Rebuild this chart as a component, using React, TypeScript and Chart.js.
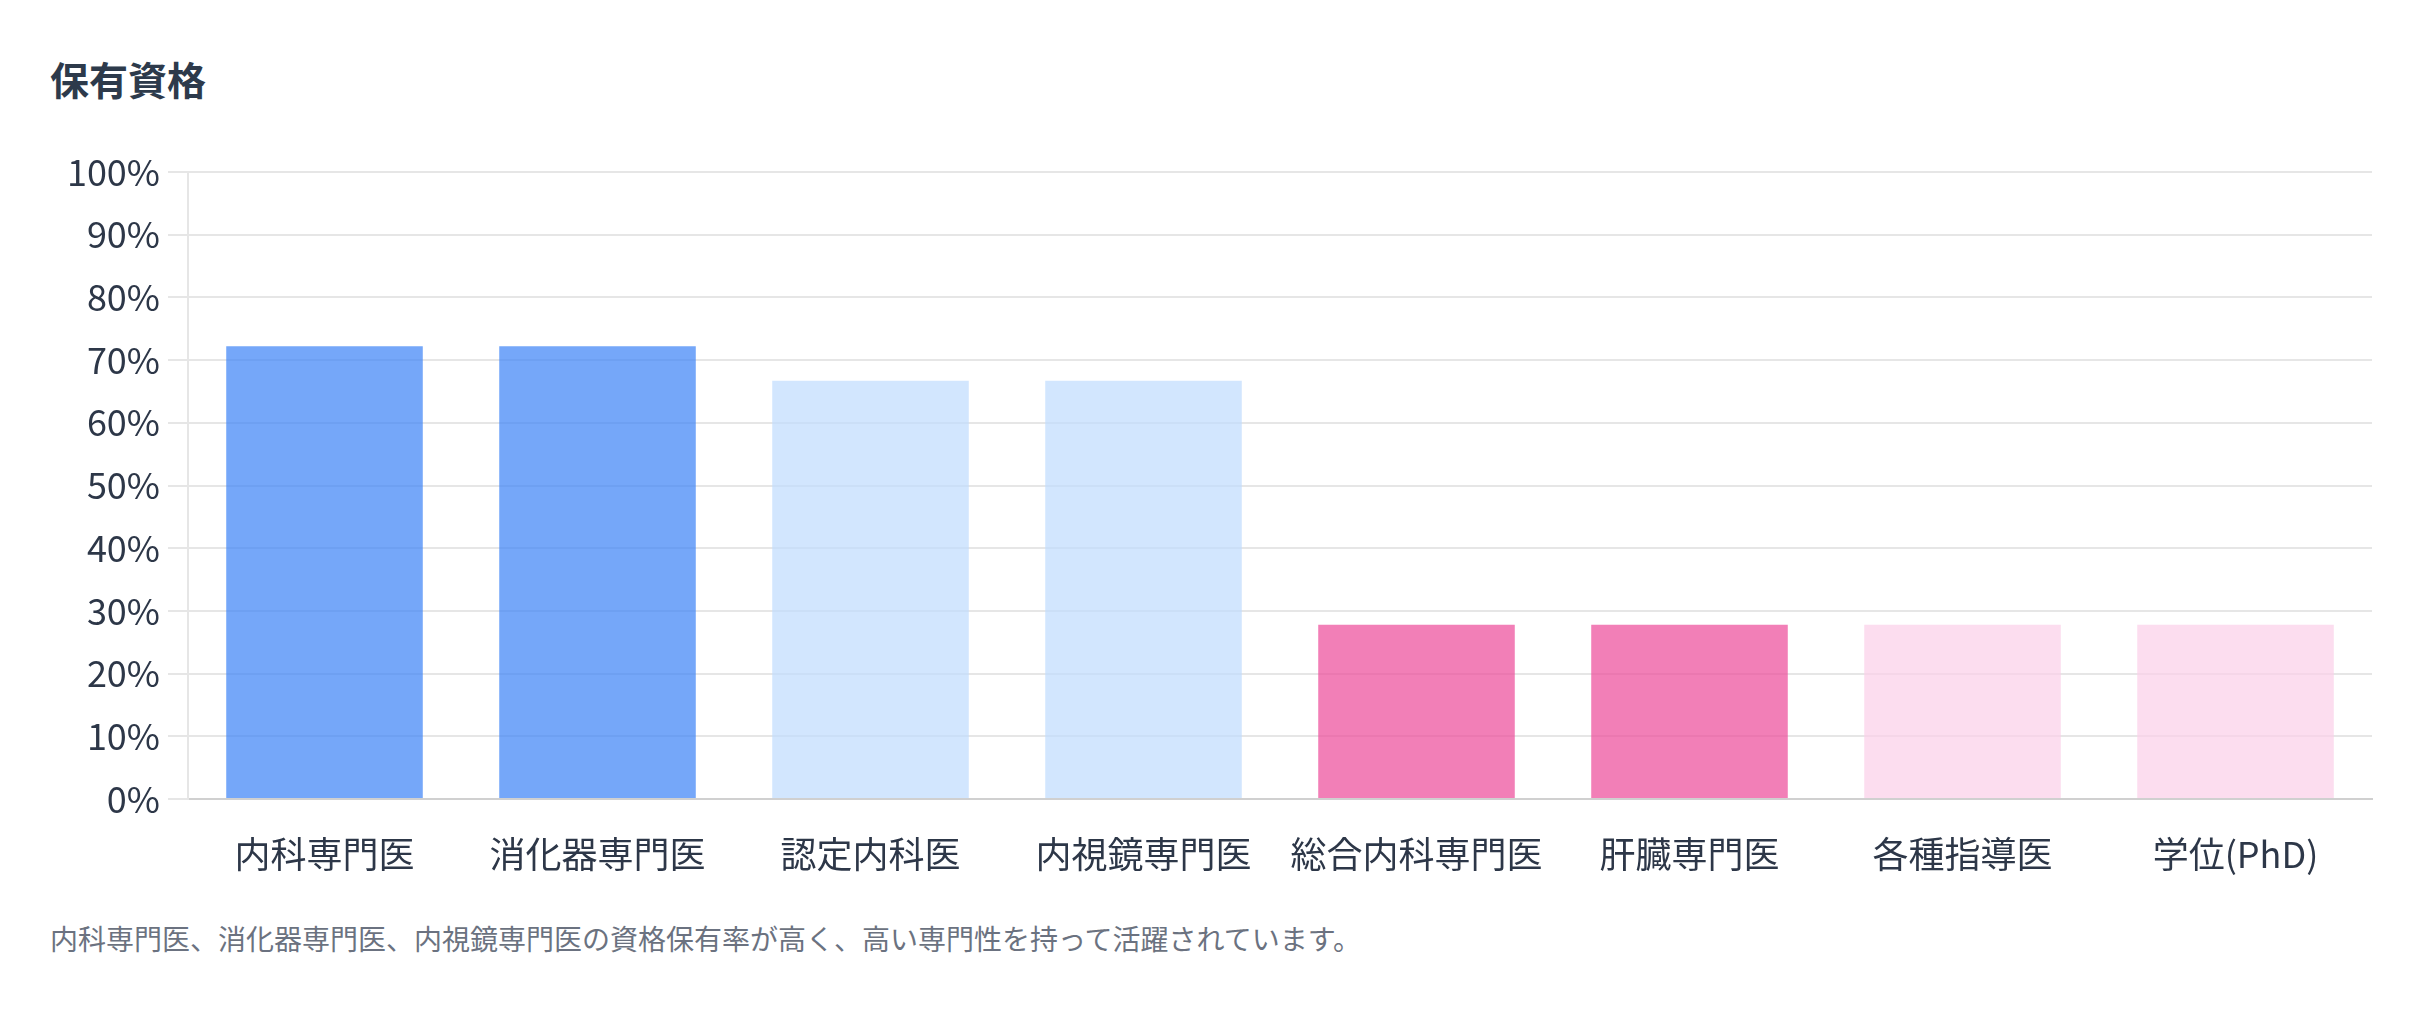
import { Chart, registerables } from "chart.js";
import { useEffect, useRef } from "react";

Chart.register(...registerables);

const categories = ["内科専門医", "消化器専門医", "認定内科医", "内視鏡専門医", "総合内科専門医", "肝臓専門医", "各種指導医", "学位(PhD)"];
const holdRates = [72.2, 72.2, 66.7, 66.7, 27.8, 27.8, 27.8, 27.8];
const barColors = [
  "rgba(59, 130, 246, 0.7)",
  "rgba(59, 130, 246, 0.7)",
  "rgba(191, 219, 254, 0.7)",
  "rgba(191, 219, 254, 0.7)",
  "rgba(236, 72, 153, 0.7)",
  "rgba(236, 72, 153, 0.7)",
  "rgba(251, 207, 232, 0.7)",
  "rgba(251, 207, 232, 0.7)",
];

const FONT = '"Noto Sans CJK JP", "Noto Sans", sans-serif';

const QualificationChart = () => {
  const chartRef = useRef<HTMLCanvasElement>(null);
  const chartInstance = useRef<Chart | null>(null);

  useEffect(() => {
    if (!chartRef.current) return;
    const ctx = chartRef.current.getContext("2d");
    if (!ctx) return;

    chartInstance.current = new Chart(ctx, {
      type: "bar",
      data: {
        labels: categories,
        datasets: [
          {
            label: "保有率",
            data: holdRates,
            backgroundColor: barColors,
            borderWidth: 0,
          },
        ],
      },
      options: {
        animation: false,
        responsive: true,
        maintainAspectRatio: false,
        layout: { padding: { top: 30, right: 8, bottom: 0, left: 0 } },
        plugins: {
          legend: { display: false },
          tooltip: { enabled: false },
        },
        scales: {
          x: {
            grid: { display: false },
            border: { color: "#d0d0d0", width: 2 },
            ticks: {
              color: "#2d3748",
              font: { family: FONT, size: 36 },
              padding: 26,
            },
            afterFit: (scale: any) => {
              scale.height = 100;
            },
          },
          y: {
            min: 0,
            max: 100,
            ticks: {
              stepSize: 10,
              color: "#2d3748",
              font: { family: FONT, size: 36 },
              padding: 8,
              callback: (v: any) => v + "%",
            },
            grid: { color: "#e6e6e6", lineWidth: 2, tickLength: 20 },
            border: { color: "#e6e6e6", width: 2 },
            afterFit: (scale: any) => {
              scale.width = 188;
            },
          },
        },
      } as any,
    });

    return () => {
      if (chartInstance.current) {
        chartInstance.current.destroy();
        chartInstance.current = null;
      }
    };
  }, []);

  return <canvas ref={chartRef} />;
};

export default function App() {
  return (
    <div
      style={{
        position: "fixed",
        left: 0,
        top: 0,
        width: 2432,
        height: 1022,
        background: "#fff",
        fontFamily: FONT,
      }}
    >
      <div
        style={{
          position: "absolute",
          left: 50,
          top: 58,
          fontSize: 39,
          lineHeight: "40px",
          fontWeight: 700,
          color: "#2d3a4b",
        }}
      >
        保有資格
      </div>
      <div style={{ position: "absolute", left: 0, top: 142, width: 2380, height: 757 }}>
        <QualificationChart />
      </div>
      <div
        style={{
          position: "absolute",
          left: 50,
          top: 922,
          fontSize: 28,
          lineHeight: "32px",
          color: "#6b7280",
        }}
      >
        内科専門医、消化器専門医、内視鏡専門医の資格保有率が高く、高い専門性を持って活躍されています。
      </div>
    </div>
  );
}
